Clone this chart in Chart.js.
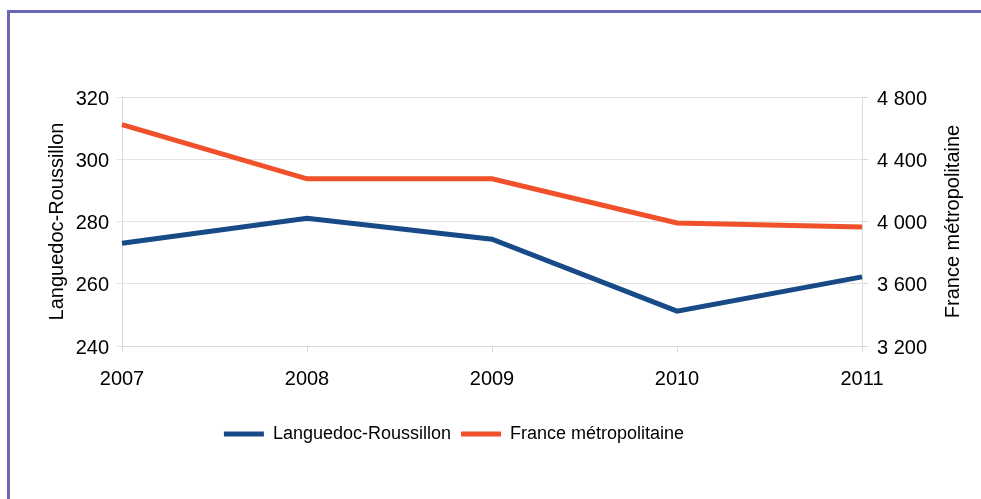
<!DOCTYPE html>
<html>
<head>
<meta charset="utf-8">
<script src="https://cdn.jsdelivr.net/npm/chart.js@4"></script>
<style>
  html, body { margin: 0; padding: 0; background: #fff; }
  #wrap { position: relative; width: 981px; height: 499px; }
  #frame { position: absolute; left: 7px; top: 10px; right: 0; bottom: 0; border-left: 3px solid #6a67b5; border-top: 3px solid #6a67b5; pointer-events: none; }
  canvas { position: absolute; left: 0; top: 0; }
</style>
</head>
<body>
<div id="wrap">
  <canvas id="lineChart" width="981" height="499"></canvas>
  <div id="frame"></div>
</div>
<script>
const years = ["2007", "2008", "2009", "2010", "2011"];
const languedoc = [273, 281, 274.3, 251.2, 262.2];
const france = [4622, 4274, 4274, 3991, 3965];
const leftTicks = [240, 260, 280, 300, 320];
const rightTicks = [3200, 3600, 4000, 4400, 4800];

const family = "'Liberation Sans', Arial, sans-serif";
const axisFont = { family, size: 20 };
const legendFont = { family, size: 18 };

// right axis title reads bottom to top in the original
const rightTitle = {
    id: "rightTitle",
    afterLayout(chart) {
        // legend sits left of centre in the original
        chart.legend.left -= 59;
        chart.legend.right -= 59;
    },
    afterDraw(chart) {
        const ctx = chart.ctx;
        const area = chart.chartArea;
        ctx.save();
        ctx.translate(953, (area.top + area.bottom) / 2);
        ctx.rotate(-Math.PI / 2);
        ctx.font = "20px " + family;
        ctx.fillStyle = "#000";
        ctx.textAlign = "center";
        ctx.textBaseline = "middle";
        ctx.fillText("France métropolitaine", 0, 0);
        ctx.restore();
    }
};

const ref = document.getElementById("lineChart").getContext("2d");
const lineChart = new Chart(ref, {
    type: "line",
    data: {
        labels: years,
        datasets: [
            {
                label: "Languedoc-Roussillon",
                data: languedoc,
                yAxisID: "y",
                borderColor: "#174a87",
                backgroundColor: "#174a87",
                borderWidth: 5,
                pointRadius: 0,
                tension: 0
            },
            {
                label: "France métropolitaine",
                data: france,
                yAxisID: "y1",
                borderColor: "#f0502a",
                backgroundColor: "#f0502a",
                borderWidth: 5,
                pointRadius: 0,
                tension: 0
            }
        ]
    },
    options: {
        responsive: false,
        animation: false,
        layout: { padding: { left: 45, right: 0, top: 97, bottom: 46 } },
        plugins: {
            tooltip: { enabled: false },
            legend: {
                position: "bottom",
                labels: {
                    color: "#000",
                    font: legendFont,
                    usePointStyle: true,
                    pointStyle: "line",
                    pointStyleWidth: 40,
                    padding: 10
                }
            }
        },
        scales: {
            x: {
                offset: false,
                grid: { drawOnChartArea: false, tickLength: 6, color: "#d9d9d9" },
                border: { color: "#d9d9d9" },
                ticks: { color: "#000", font: axisFont, padding: 15, maxRotation: 0 },
                afterFit(scale) { scale.height = 69; }
            },
            y: {
                position: "left",
                min: leftTicks[0],
                max: leftTicks[leftTicks.length - 1],
                afterBuildTicks(scale) { scale.ticks = leftTicks.map(v => ({ value: v })); },
                grid: { color: "#e3e3e3", tickLength: 5 },
                border: { color: "#d9d9d9" },
                ticks: { color: "#000", font: axisFont, padding: 8, labelOffset: 2 },
                title: { display: true, text: "Languedoc-Roussillon", color: "#000", font: axisFont, padding: 0 },
                afterFit(scale) { scale.width = 77; }
            },
            y1: {
                position: "right",
                min: rightTicks[0],
                max: rightTicks[rightTicks.length - 1],
                afterBuildTicks(scale) { scale.ticks = rightTicks.map(v => ({ value: v })); },
                grid: { drawOnChartArea: false, tickLength: 6, color: "#d9d9d9" },
                border: { color: "#d9d9d9" },
                ticks: {
                    color: "#000",
                    font: axisFont,
                    padding: 9,
                    labelOffset: 2,
                    callback: v => String(v).replace(/\B(?=(\d{3})+(?!\d))/g, " ")
                },
                afterFit(scale) { scale.width = 119; }
            }
        }
    },
    plugins: [rightTitle]
});
</script>
</body>
</html>
